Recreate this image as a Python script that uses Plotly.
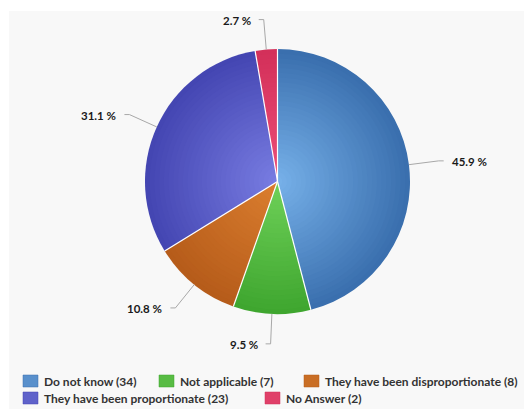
import math
import plotly.graph_objects as go

categories = ["Do not know", "Not applicable", "They have been disproportionate",
              "They have been proportionate", "No Answer"]
counts = [34, 7, 8, 23, 2]
percent_labels = ["45.9 %", "9.5 %", "10.8 %", "31.1 %", "2.7 %"]

# style: inner (light) and outer (dark) gradient colour per slice
light_colors = ["#78b2ea", "#70d25a", "#dc7f30", "#7a7ee3", "#ee4f78"]
dark_colors = ["#3a6fae", "#3fa62f", "#b65c1a", "#4446b2", "#d3305a"]

W, H = 532, 411
PAGE_OFF = 8  # page body margin in the browser
CX, CY, R = 277.5, 181.5, 132.5  # screen pixels
DIST = 30
FONT = "Lato, Open Sans, sans-serif"


def px(x):
    return (x - PAGE_OFF) / W


def py(y):
    return 1 - (y - PAGE_OFF) / H


def hex2rgb(h):
    h = h.lstrip("#")
    return tuple(int(h[i:i + 2], 16) for i in (0, 2, 4))


def mix(a, b, t):
    ra, rb = hex2rgb(a), hex2rgb(b)
    return "rgb({},{},{})".format(*[round(ra[i] + (rb[i] - ra[i]) * t) for i in range(3)])


fig = go.Figure()
N = 28
for k in range(N):
    rk = R * (1 - k / N)
    t = rk / R
    cols = [mix(l, d, t) for l, d in zip(light_colors, dark_colors)]
    fig.add_trace(go.Pie(
        labels=categories,
        values=counts,
        sort=False,
        direction="clockwise",
        rotation=0,
        marker=dict(colors=cols, line=dict(width=0)),
        textinfo="none",
        hoverinfo="label+value+percent" if k == 0 else "skip",
        showlegend=False,
        domain=dict(x=[px(CX - rk), px(CX + rk)], y=[py(CY + rk), py(CY - rk)]),
    ))

total = sum(counts)
shapes = [dict(type="rect", xref="paper", yref="paper", x0=px(9), x1=1, y0=py(409), y1=py(11),
               fillcolor="#f8f8f8", line=dict(width=0), layer="below")]
annotations = []

# slice separators
cum = 0
for n in counts:
    a = cum / total * 2 * math.pi
    cum += n
    shapes.append(dict(type="line", xref="paper", yref="paper",
                       x0=px(CX), y0=py(CY),
                       x1=px(CX + R * math.sin(a)), y1=py(CY - R * math.cos(a)),
                       line=dict(color="#ffffff", width=1.2)))

# data labels with connectors
cum = 0
for n, lab in zip(counts, percent_labels):
    mid = (cum + n / 2) / total * 2 * math.pi
    cum += n
    s, c = math.sin(mid), math.cos(mid)
    ex, ey = CX + R * s, CY - R * c
    ax, ay = CX + (R + DIST) * s, CY - (R + DIST) * c
    right = s >= 0
    hx = ax + (5 if right else -5)
    shapes.append(dict(type="path", xref="paper", yref="paper",
                       path=f"M {px(ex)},{py(ey)} L {px(ax)},{py(ay)} L {px(hx)},{py(ay)}",
                       line=dict(color="#a8a8a8", width=1)))
    annotations.append(dict(x=px(hx + (6 if right else -6)), y=py(ay + 1), xref="paper", yref="paper",
                            text=f"<b>{lab}</b>", showarrow=False,
                            xanchor="left" if right else "right", yanchor="middle",
                            font=dict(size=11.5, color="#1a1a1a", family=FONT)))

# legend (built from categories, counts and colours)
legend_slots = [(23, 381), (159, 381), (304, 381), (23, 398), (265, 398)]
for name, n, lc, dc, (lx, ly) in zip(categories, counts, light_colors, dark_colors, legend_slots):
    shapes.append(dict(type="rect", xref="paper", yref="paper",
                       x0=px(lx), x1=px(lx + 15), y0=py(ly + 6), y1=py(ly - 6),
                       fillcolor=mix(lc, dc, 0.5), line=dict(color=dc, width=0.5)))
    annotations.append(dict(x=px(lx + 19), y=py(ly), xref="paper", yref="paper",
                            text=f"<b>{name} ({n})</b>", showarrow=False,
                            xanchor="left", yanchor="middle",
                            font=dict(size=12, color="#333333", family=FONT)))

fig.update_layout(
    width=W, height=H,
    margin=dict(l=0, r=0, t=0, b=0),
    paper_bgcolor="#ffffff",
    plot_bgcolor="#ffffff",
    font=dict(family=FONT, color="#333333"),
    shapes=shapes,
    annotations=annotations,
    showlegend=False,
)

fig.write_html("out.html")
